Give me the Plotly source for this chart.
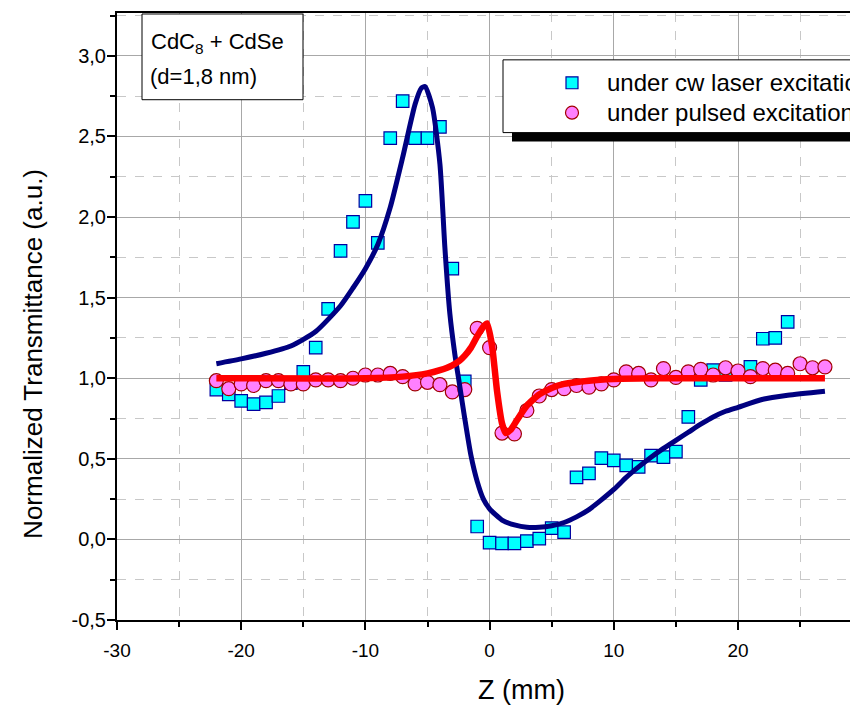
import plotly.graph_objects as go

# ---------------- data ----------------
cw_z = [-22, -21, -20, -19, -18, -17, -16, -15, -14, -13, -12, -11, -10, -9, -8, -7, -6, -5, -4, -3, -2, -1,
        0, 1, 2, 3, 4, 5, 6, 7, 8, 9, 10, 11, 12, 13, 14, 15, 16, 17, 18, 19, 20, 21, 22, 23, 24]
cw_t = [0.93, 0.90, 0.86, 0.84, 0.85, 0.89, 0.97, 1.04, 1.19, 1.43, 1.79, 1.97, 2.10, 1.84, 2.49, 2.72, 2.49, 2.49,
        2.56, 1.68, 0.98, 0.08, -0.02, -0.025, -0.025, -0.01, 0.005, 0.07, 0.045, 0.385, 0.41, 0.505, 0.49, 0.46,
        0.45, 0.52, 0.51, 0.545, 0.76, 0.99, 1.05, 1.02, 1.03, 1.07, 1.245, 1.25, 1.35]

pulsed_z = [-22, -21, -20, -19, -18, -17, -16, -15, -14, -13, -12, -11, -10, -9, -8, -7, -6, -5, -4, -3, -2, -1,
            0, 1, 2, 3, 4, 5, 6, 7, 8, 9, 10, 11, 12, 13, 14, 15, 16, 17, 18, 19, 20, 21, 22, 23, 24, 25, 26, 27]
pulsed_t = [0.985, 0.935, 0.965, 0.955, 0.985, 0.985, 0.965, 0.965, 0.99, 0.99, 0.985, 1.00, 1.02, 1.02, 1.03, 1.01,
            0.965, 0.975, 0.96, 0.915, 0.93, 1.31, 1.19, 0.66, 0.655, 0.80, 0.89, 0.93, 0.935, 0.955, 0.945, 0.965,
            0.99, 1.04, 1.03, 0.99, 1.06, 1.005, 1.04, 1.055, 1.02, 1.065, 1.045, 1.01, 1.06, 1.05, 1.03, 1.09,
            1.065, 1.07]

fit_cw_z = [-22, -20, -18, -16, -14, -12, -11, -10, -9, -8, -7, -6, -5.5, -5.2, -4.6, -4.0, -3.6, -3.2, -2.8,
            -2.4, -2.0, -1.5, -1.0, -0.5, 0, 1, 2, 3, 4, 5, 6, 7, 8, 9, 10, 11, 12, 13, 14, 15, 16, 17, 18, 19,
            20, 22, 24, 27]
fit_cw_t = [1.09, 1.12, 1.155, 1.20, 1.29, 1.45, 1.56, 1.68, 1.83, 2.06, 2.37, 2.70, 2.80, 2.81, 2.68, 2.33, 1.81,
            1.40, 1.15, 0.95, 0.75, 0.52, 0.36, 0.25, 0.19, 0.12, 0.09, 0.075, 0.075, 0.085, 0.105, 0.14, 0.185,
            0.245, 0.31, 0.385, 0.45, 0.51, 0.565, 0.615, 0.665, 0.715, 0.76, 0.795, 0.82, 0.87, 0.895, 0.92]

fit_pulsed_z = [-22, -10, -7, -5, -4, -3, -2.4, -2, -1.5, -1, -0.5, -0.2, 0.2, 0.6, 1.0, 1.3, 1.7, 2.2, 3, 4, 5, 6,
                8, 10, 13, 27]
fit_pulsed_t = [1.0, 1.0, 1.01, 1.03, 1.05, 1.08, 1.11, 1.14, 1.19, 1.26, 1.32, 1.34, 1.20, 0.92, 0.72, 0.66, 0.68,
                0.74, 0.83, 0.90, 0.94, 0.965, 0.985, 0.995, 1.0, 1.0]

y_tick_vals = [-0.5, 0.0, 0.5, 1.0, 1.5, 2.0, 2.5, 3.0]
y_tick_text = ["-0,5", "0,0", "0,5", "1,0", "1,5", "2,0", "2,5", "3,0"]
x_tick_vals = [-30, -20, -10, 0, 10, 20]
x_tick_text = ["-30", "-20", "-10", "0", "10", "20"]

legend_labels = ["under cw laser excitation", "under pulsed excitation"]
note_lines = ["CdC<sub>8</sub> + CdSe", "(d=1,8 nm)"]

# ---------------- layout geometry ----------------
# the page body has an 8px margin: positions below are page pixels, converted to figure pixels
OFF = 8
W, H = 858, 711
PLOT_L, PLOT_T, PLOT_B, PLOT_R = 117, 11, 620, 858   # page pixels of the plot frame
ML = PLOT_L - OFF
MT = PLOT_T - OFF
MB = H - (PLOT_B - OFF)
MR = W - (PLOT_R - OFF)
PW = W - ML - MR
PH = H - MT - MB
FONT = "Liberation Sans, Arial, sans-serif"
X_PER_UNIT = 12.42
Y_PER_UNIT = 161.7


def px(xp):
    return (xp - PLOT_L) / PW


def py(yp):
    return (PLOT_B - yp) / PH


fig = go.Figure()

fig.add_trace(go.Scatter(
    x=cw_z, y=cw_t, mode="markers", name=legend_labels[0], showlegend=False,
    marker=dict(symbol="square", size=12.5, color="#00FFFF", line=dict(color="#0000A0", width=1.2)),
))
fig.add_trace(go.Scatter(
    x=pulsed_z, y=pulsed_t, mode="markers", name=legend_labels[1], showlegend=False,
    marker=dict(symbol="circle", size=14, color="#FF80FF", line=dict(color="#A00000", width=1.2)),
))
fig.add_trace(go.Scatter(
    x=fit_cw_z, y=fit_cw_t, mode="lines", showlegend=False,
    line=dict(color="#000080", width=5, shape="spline", smoothing=0.6),
))
fig.add_trace(go.Scatter(
    x=fit_pulsed_z, y=fit_pulsed_t, mode="lines", showlegend=False,
    line=dict(color="#FF0000", width=6.5, shape="spline", smoothing=0.5),
))

grid_major = "#A8A8A8"
grid_minor = "#C8C8C8"

fig.update_xaxes(
    range=[-30, -30 + PW / X_PER_UNIT],
    tickmode="array", tickvals=x_tick_vals, ticktext=x_tick_text,
    ticks="outside", ticklen=8, tickwidth=2, tickcolor="black",
    showline=True, linecolor="black", linewidth=2, mirror=True,
    showgrid=True, gridcolor=grid_major, gridwidth=1,
    zeroline=False,
    tickfont=dict(family=FONT, size=19, color="black"),
    ticklabelstandoff=4,
    minor=dict(tickvals=[-25, -15, -5, 5, 15, 25], ticks="outside", ticklen=5, tickwidth=2, tickcolor="black",
               showgrid=True, gridcolor=grid_minor, griddash="dash", gridwidth=1),
)
fig.update_yaxes(
    range=[-0.5, -0.5 + PH / Y_PER_UNIT],
    tickmode="array", tickvals=y_tick_vals, ticktext=y_tick_text,
    ticks="outside", ticklen=8, tickwidth=2, tickcolor="black",
    showline=True, linecolor="black", linewidth=2, mirror=False,
    showgrid=True, gridcolor=grid_major, gridwidth=1,
    zeroline=False,
    tickfont=dict(family=FONT, size=20, color="black"),
    ticklabelstandoff=-3,
    minor=dict(tickvals=[-0.25, 0.25, 0.75, 1.25, 1.75, 2.25, 2.75, 3.25], ticks="outside", ticklen=5, tickwidth=2,
               tickcolor="black", showgrid=True, gridcolor=grid_minor, griddash="dash", gridwidth=1),
)

shapes = []
# note box
shapes.append(dict(type="rect", xref="paper", yref="paper", x0=px(142), x1=px(303), y0=py(98), y1=py(12),
                   fillcolor="white", line=dict(color="black", width=1), layer="above"))
# legend shadow + box
shapes.append(dict(type="rect", xref="paper", yref="paper", x0=px(512), x1=px(960), y0=py(140), y1=py(131),
                   fillcolor="black", line=dict(width=0), layer="above"))
shapes.append(dict(type="rect", xref="paper", yref="paper", x0=px(503), x1=px(960), y0=py(131), y1=py(58),
                   fillcolor="white", line=dict(color="black", width=1), layer="above"))
# legend symbols
shapes.append(dict(type="rect", xref="paper", yref="paper", x0=px(566), x1=px(578), y0=py(87), y1=py(75),
                   fillcolor="#00FFFF", line=dict(color="#0000A0", width=1.2), layer="above"))
shapes.append(dict(type="circle", xref="paper", yref="paper", x0=px(565.5), x1=px(578.5), y0=py(117.5), y1=py(104.5),
                   fillcolor="#FF80FF", line=dict(color="#A00000", width=1.2), layer="above"))

annotations = []
annotations.append(dict(xref="paper", yref="paper", x=px(149), y=py(41), xanchor="left", yanchor="middle",
                        text=note_lines[0], showarrow=False, font=dict(family=FONT, size=22, color="black")))
annotations.append(dict(xref="paper", yref="paper", x=px(148), y=py(75), xanchor="left", yanchor="middle",
                        text=note_lines[1], showarrow=False, font=dict(family=FONT, size=22, color="black")))
annotations.append(dict(xref="paper", yref="paper", x=px(605), y=py(81), xanchor="left", yanchor="middle",
                        text=legend_labels[0], showarrow=False, font=dict(family=FONT, size=24, color="black")))
annotations.append(dict(xref="paper", yref="paper", x=px(605), y=py(111), xanchor="left", yanchor="middle",
                        text=legend_labels[1], showarrow=False, font=dict(family=FONT, size=24, color="black")))
annotations.append(dict(xref="paper", yref="paper", x=px(521), y=py(690), xanchor="center", yanchor="middle",
                        text="Z (mm)", showarrow=False, font=dict(family=FONT, size=27, color="black")))
annotations.append(dict(xref="paper", yref="paper", x=px(33), y=py(353), xanchor="center", yanchor="middle",
                        text="Normalized Transmittance (a.u.)", textangle=-90, showarrow=False,
                        font=dict(family=FONT, size=26, color="black")))
# the "30" tick label, cut at the right edge in the reference
annotations.append(dict(xref="paper", yref="paper", x=px(862), y=py(648), xanchor="center", yanchor="middle",
                        text="30", showarrow=False, font=dict(family=FONT, size=19, color="black")))

fig.update_layout(
    width=W, height=H,
    margin=dict(l=ML, r=MR, t=MT, b=MB, pad=0),
    paper_bgcolor="white", plot_bgcolor="white",
    showlegend=False,
    shapes=shapes,
    annotations=annotations,
    font=dict(family=FONT, color="black"),
)

fig.write_html("out.html")
